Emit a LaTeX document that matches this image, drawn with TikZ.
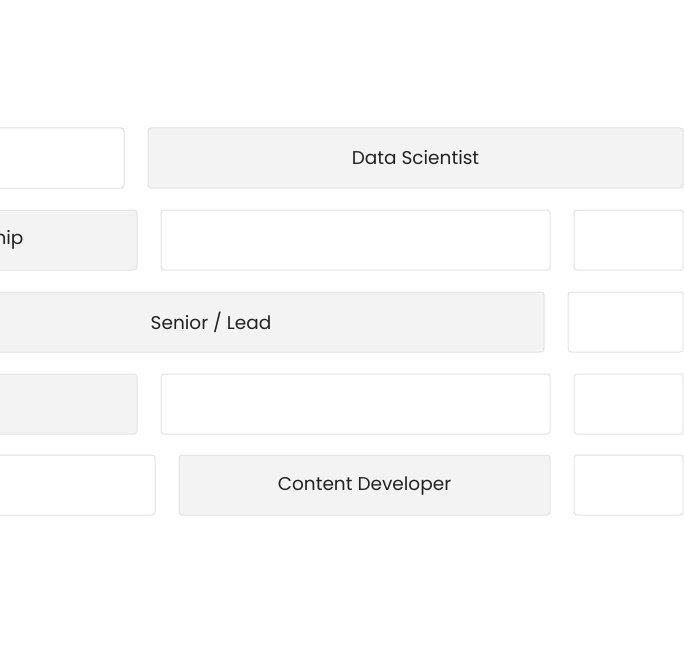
\documentclass[tikz,border=0pt]{standalone}
\usepackage{fontspec}
\setmainfont{Poppins}
\definecolor{bd}{HTML}{E2E2E2}
\definecolor{gf}{HTML}{F3F3F3}
\definecolor{tx}{HTML}{222222}
\begin{document}
\begin{tikzpicture}[x=1pt,y=-1pt,
  cell/.style={draw=bd,line width=1pt,rounded corners=3pt,fill=white},
  gcell/.style={cell,fill=gf},
  lab/.style={font=\fontsize{18.5}{20}\selectfont,text=tx}]
\useasboundingbox (0,0) rectangle (684,671);
\clip (0,0) rectangle (684,671);
% row 1
\draw[cell] (-200,128) rectangle (124,188);
\draw[gcell] (148,128) rectangle (683,188);
\node[lab] (ds) at (415.5,158) {Data Scientist};
% row 2
\draw[gcell] (-200,210) rectangle (137,270);
\node[lab,anchor=east] (in) at (27,240) {Internship};
\draw[cell] (161,210) rectangle (550,270);
\draw[cell] (574,210) rectangle (683,270);
% row 3
\draw[gcell] (-122,292) rectangle (544,352);
\node[lab] (sl) at (211,322) {Senior / Lead};
\draw[cell] (568,292) rectangle (683,352);
% row 4
\draw[gcell] (-200,374) rectangle (137,434);
\draw[cell] (161,374) rectangle (550,434);
\draw[cell] (574,374) rectangle (683,434);
% row 5
\draw[cell] (-200,455) rectangle (155,515);
\draw[gcell] (179,455) rectangle (550,515);
\node[lab] (cd) at (364.5,486) {Content Developer};
\draw[cell] (574,455) rectangle (683,515);
\end{tikzpicture}
\end{document}
